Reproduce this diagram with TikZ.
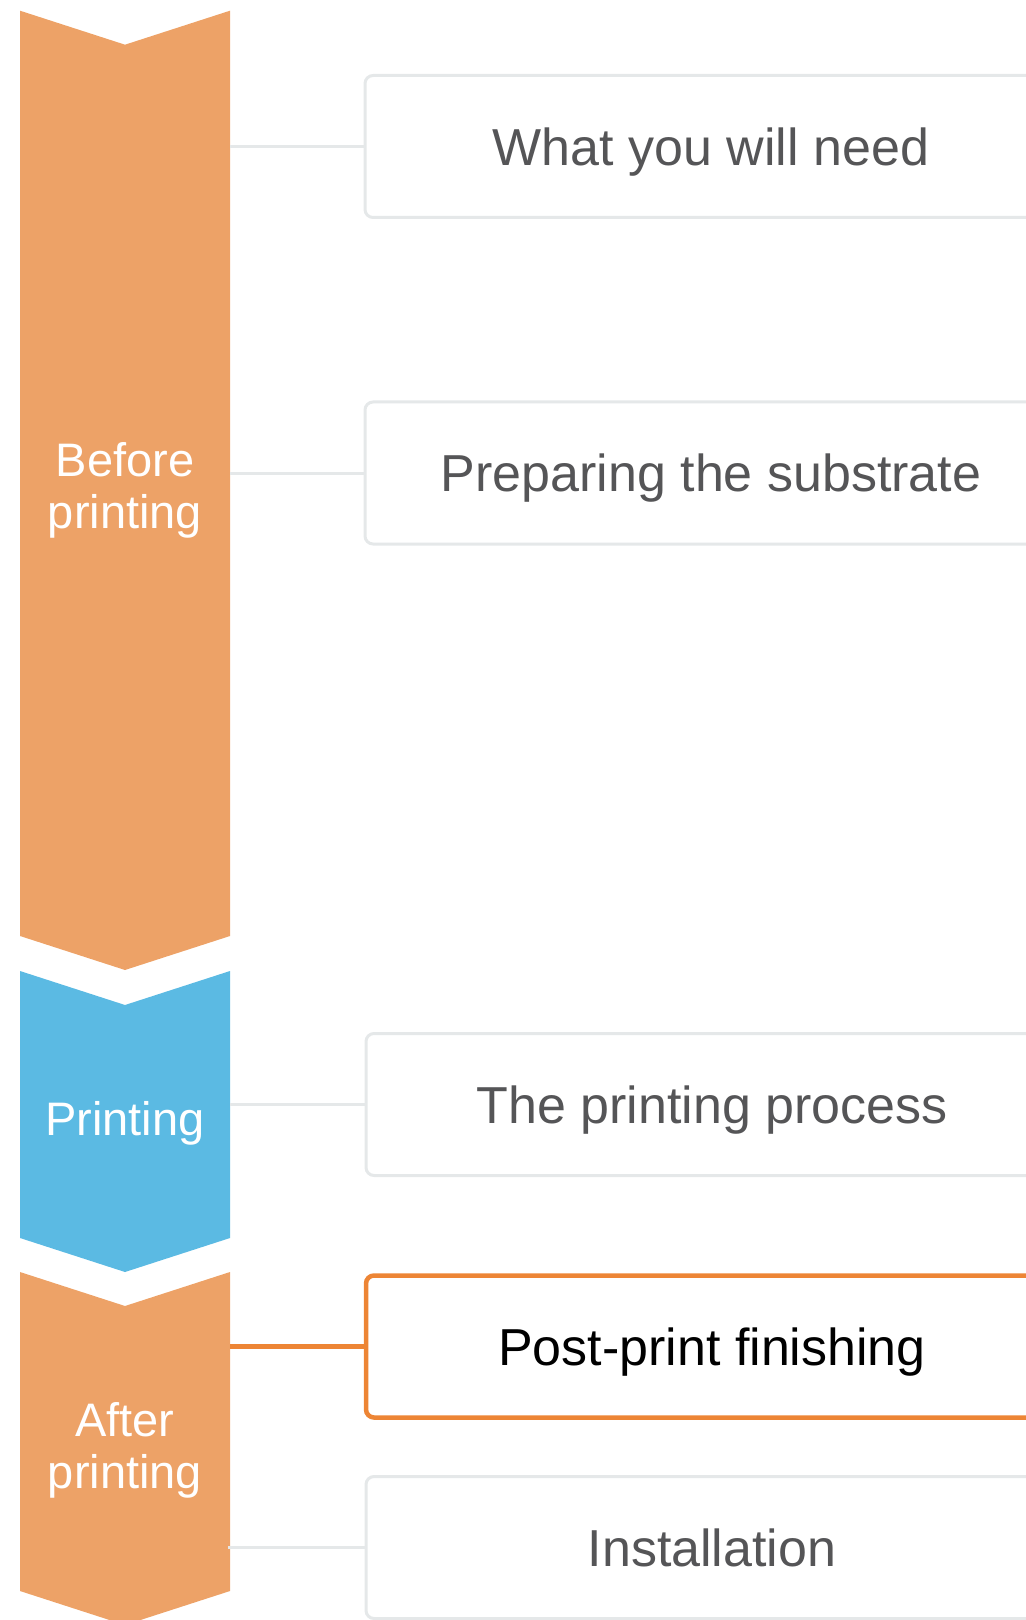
\documentclass[tikz,border=0pt]{standalone}
\usepackage{fontspec}
\setmainfont{Liberation Sans}
\definecolor{stageorange}{RGB}{237,162,103}
\definecolor{stageblue}{RGB}{91,186,227}
\definecolor{hiorange}{RGB}{237,133,53}
\definecolor{boxgray}{RGB}{229,232,233}
\definecolor{textgray}{RGB}{85,85,87}
% one arrow-shaped stage band: colour, top, bottom
\newcommand{\chevron}[3]{\fill[#1] (20,#2) -- (125,#2+34) -- (230,#2) -- (230,#3) -- (125,#3+34) -- (20,#3) -- cycle;}

\begin{document}
\begin{tikzpicture}[
     x=0.5pt,y=-0.5pt,
     topic/.style={draw=boxgray,line width=1.5pt,rounded corners=4pt,fill=white,
       minimum width=346pt,minimum height=71pt,text=textgray,
       font=\fontsize{26}{30}\selectfont,text height=18.7pt,text depth=0pt},
     current/.style={topic,draw=hiorange,line width=2.25pt,text=black},
     link/.style={boxgray,line width=1.5pt},
     stagetext/.style={text=white,align=center,font=\fontsize{23.5}{25.8}\selectfont}
   ]
   \path[use as bounding box] (0,0) rectangle (1026,1620);
   \clip (0,0) rectangle (1026,1620);
   % Stages.
   \chevron{stageorange}{10.7}{936}
   \chevron{stageblue}{971}{1238}
   \chevron{stageorange}{1272}{1591}
   \node[stagetext] (before) at (125,490.5) {Before\\printing};
   \node[stagetext,anchor=base] (printing) at (125,1135) {Printing};
   \node[stagetext] (after) at (125,1450.5) {After\\printing};
   % Ends of the links on the stages.
   \coordinate (before-1) at (230,146.5);
   \coordinate (before-2) at (230,473);
   \coordinate (printing-1) at (230,1104.5);
   \coordinate (after-1) at (230,1346.5);
   \coordinate (after-2) at (228,1547.5);
   % Topics.
   \node[topic] (need) at (711,146.5) {What you will need};
   \node[topic] (prep) at (711,473) {Preparing the substrate};
   \node[topic] (proc) at (712,1104.5) {The printing process};
   \node[current] (post) at (712,1346.5) {Post-print finishing};
   \node[topic] (inst) at (712,1547.5) {Installation};
   % Links.
   \draw[link] (before-1) -- (need.west);
   \draw[link] (before-2) -- (prep.west);
   \draw[link] (printing-1) -- (proc.west);
   \draw[link,hiorange,line width=2.25pt] (after-1) -- (post.west);
   \draw[link] (after-2) -- (inst.west);
 \end{tikzpicture}
\end{document}
